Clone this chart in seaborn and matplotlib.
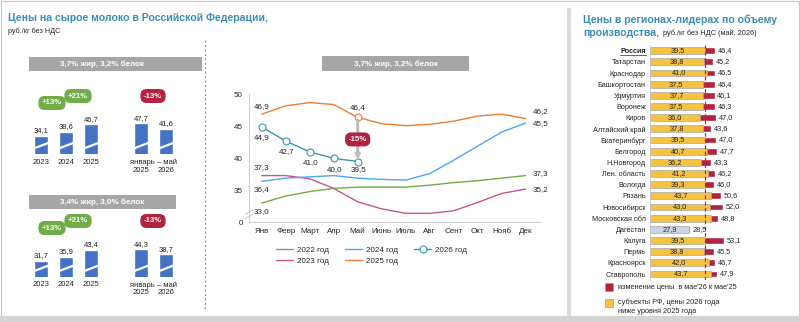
import numpy as np
import pandas as pd
import matplotlib
matplotlib.use('Agg')
import matplotlib.pyplot as plt
from matplotlib.patches import Rectangle
import seaborn as sns

# ---- data ----
months = ['Янв', 'Февр', 'Март', 'Апр', 'Май', 'Июнь', 'Июль', 'Авг', 'Сент', 'Окт', 'Нояб', 'Дек']
price_2022 = [33.0, 34.1, 34.8, 35.3, 35.5, 35.5, 35.5, 35.8, 36.2, 36.5, 36.9, 37.3]
price_2023 = [37.3, 37.3, 36.8, 35.3, 33.2, 32.1, 31.4, 31.4, 31.8, 33.1, 34.5, 35.2]
price_2024 = [36.4, 36.9, 37.1, 37.3, 36.9, 36.7, 36.6, 37.6, 39.7, 41.9, 44.1, 45.5]
price_2025 = [46.9, 48.2, 48.7, 48.4, 46.4, 45.4, 45.1, 45.3, 45.8, 46.6, 46.9, 46.2]
price_2026 = [44.9, 42.7, 41.0, 40.0, 39.5]

periods = ['2023', '2024', '2025', 'январь – май 2025', 'январь – май 2026']
period_ticks = ['2023', '2024', '2025', '2025', '2026']
fat37_values = [34.1, 38.6, 46.7, 47.7, 41.6]
fat34_values = [31.7, 35.9, 43.4, 44.3, 38.7]

regions = ['Россия', 'Татарстан', 'Краснодар', 'Башкортостан', 'Удмуртия', 'Воронеж',
           'Киров', 'Алтайский край', 'Екатеринбург', 'Белгород', 'Н.Новгород',
           'Лен. область', 'Вологда', 'Рязань', 'Новосибирск', 'Московская обл',
           'Дагестан', 'Калуга', 'Пермь', 'Красноярск', 'Ставрополь']
may_2026 = [39.5, 38.8, 41.0, 37.5, 37.7, 37.5, 36.0, 37.8, 39.5, 40.7, 36.2,
            41.2, 39.3, 43.7, 43.0, 43.3, 27.9, 39.5, 38.8, 42.0, 43.7]
may_2025 = [46.4, 45.2, 46.5, 46.4, 46.1, 46.3, 47.0, 43.6, 47.0, 47.7, 43.3,
            46.2, 46.0, 50.6, 52.0, 48.8, 28.5, 53.1, 45.5, 46.7, 47.9]

# ---- styles ----
W, H = 800, 322
TEAL = '#3a8fb7'
GRAY_HDR = '#a6a6a6'
BAR_BLUE = '#4472c4'
GREEN = '#70ad47'
RED = '#b3223f'
YELLOW = '#f5c242'
TXT = '#262626'
C2022, C2023, C2024, C2025, C2026 = '#70ad47', '#c5558a', '#4ea8ec', '#ed7d31', '#3a97b8'

sns.set_style('white')
plt.rcParams['font.family'] = ['Liberation Sans', 'DejaVu Sans']
plt.rcParams['text.color'] = TXT


def rect(x0, y0, x1, y1):
    return [x0 / W, 1 - y1 / H, (x1 - x0) / W, (y1 - y0) / H]


def fxy(x, y):
    return x / W, 1 - y / H


def fmt(v):
    return f'{v:.1f}'.replace('.', ',')


def pct(a, b):
    p = round((b / a - 1) * 100)
    return f'+{p}%' if p > 0 else f'{p}%'


fig = plt.figure(figsize=(8, 3.22), dpi=100)


def box(x0, y0, x1, y1, **kw):
    fig.add_artist(Rectangle(fxy(x0, y1), (x1 - x0) / W, (y1 - y0) / H,
                             transform=fig.transFigure, **kw))


def badge(x, y, text, color):
    fig.text(*fxy(x, y), text, ha='center', va='center', color='white', fontsize=5.6,
             fontweight='bold',
             bbox=dict(boxstyle='round,pad=0.45,rounding_size=0.8', fc=color, ec='none'))


def header(x0, y0, x1, y1, text, tx=None):
    box(x0, y0, x1, y1, fc=GRAY_HDR, ec='none')
    if tx is None:
        tx = (x0 + x1) / 2
    fig.text(*fxy(tx, (y0 + y1) / 2 + 0.5), text, ha='center', va='center',
             color='white', fontsize=5.8, fontweight='bold')


# frame
box(1, 1, 799, 316, fc='none', ec='#c8c8c8', lw=0.8)
box(0, 316, 800, 322, fc='#d4d4d4', ec='none')
box(567, 8, 571, 316, fc='#dcdcdc', ec='none')
fig.add_artist(plt.Line2D([205 / W, 205 / W], [1 - 40 / H, 1 - 310 / H], color='#9a9a9a',
                          lw=0.8, ls=(0, (2, 2)), transform=fig.transFigure))

# ---- left panel ----
fig.text(*fxy(8, 18), 'Цены на сырое молоко в Российской Федерации,', color=TEAL,
         fontsize=7.6, fontweight='bold', va='center')
fig.text(*fxy(8, 31), 'руб./кг без НДС', fontsize=5.2, va='center')

bar_order = ['2023', '2024', '2025', '', 'январь – май 2025', 'январь – май 2026']


def mini_chart(values, base_y, hdr, hdr_text, badge_y):
    header(*hdr, hdr_text, tx=102)
    ax = fig.add_axes(rect(28.5, base_y - 60, 178.5, base_y))
    df = pd.DataFrame({'period': periods, 'price': values})
    sns.barplot(data=df, x='period', y='price', order=bar_order, color=BAR_BLUE,
                width=0.56, saturation=1, ax=ax)
    ax.set_ylim(14.5, 14.5 + 60 / 0.92)
    ax.set_xlim(-0.5, 5.5)
    xt = ax.get_xaxis_transform()
    for k, (p, v) in enumerate(zip(periods, values)):
        i = bar_order.index(p)
        ax.annotate(fmt(v), (i, v), xytext=(0, 1.2), textcoords='offset points',
                    ha='center', va='bottom', fontsize=5.5)
        ax.plot([i - 0.29, i + 0.29], [20.5, 26.5], color='white', lw=1.6,
                solid_capstyle='butt')
        yy = -0.135 if k < 3 else -0.27
        ax.text(i, yy, period_ticks[k], transform=xt, ha='center', va='center',
                fontsize=5.5)
    ax.text(4.5, -0.135, 'январь – май', transform=xt, ha='center', va='center',
            fontsize=5.5)
    ax.set_xticks([])
    ax.set_yticks([])
    ax.set_xlabel('')
    ax.set_ylabel('')
    sns.despine(ax=ax, left=True, bottom=True)
    ax.patch.set_alpha(0)
    badge(52, badge_y + 7, pct(values[0], values[1]), GREEN)
    badge(78, badge_y, pct(values[1], values[2]), GREEN)
    badge(153, badge_y, pct(values[3], values[4]), RED)


mini_chart(fat37_values, 154, (29, 57, 202, 71), '3,7% жир, 3,2% белок', 96)
mini_chart(fat34_values, 276.7, (29, 195, 176, 209), '3,4% жир, 3,0% белок', 221)

# ---- middle line chart ----
header(322, 56, 469, 70.7, '3,7% жир, 3,2% белок')
ax = fig.add_axes(rect(249, 94.3, 540, 222.3))
series = [('2022 год', price_2022, C2022), ('2023 год', price_2023, C2023),
          ('2024 год', price_2024, C2024), ('2025 год', price_2025, C2025)]
for name, vals, col in series:
    sns.lineplot(x=np.arange(len(vals)), y=vals, color=col, lw=1.0, label=name, ax=ax)
sns.lineplot(x=np.arange(len(price_2026)), y=price_2026, color=C2026, lw=1.0,
             marker='o', markersize=5, markerfacecolor='white', markeredgecolor=C2026,
             markeredgewidth=0.8, label='2026 год', ax=ax)
ax.plot([4], [price_2025[4]], 'o', ms=5, mfc='white', mec=C2025, mew=0.8)

ax.set_xlim(-0.53, 11.6)
ax.set_ylim(30, 50)
ax.set_yticks([30, 35, 40, 45, 50])
ax.set_yticklabels(['0', '35', '40', '45', '50'], fontsize=5.8)
ax.set_xticks(range(12))
ax.set_xticklabels(months, fontsize=5.8)
ax.tick_params(axis='x', length=0, pad=4)
ax.tick_params(axis='y', length=2.5, width=0.6, color='#bfbfbf', pad=2)
for s in ['top', 'right']:
    ax.spines[s].set_visible(False)
for s in ['left', 'bottom']:
    ax.spines[s].set_color('#d0d0d0')
    ax.spines[s].set_linewidth(0.8)
ax.patch.set_alpha(0)
# axis break
for dy in (0, 2.2):
    ax.plot([-0.68, -0.36], [30.6 + dy * 0.3, 31.3 + dy * 0.3], color='#bfbfbf', lw=0.6,
            clip_on=False)


def lab(x, y, txt, dx, dy, ha='center'):
    ax.annotate(txt, (x, y), xytext=(dx * 0.72, dy * 0.72), textcoords='offset points',
                ha=ha, va='center', fontsize=5.8)


lab(0, price_2025[0], fmt(price_2025[0]), 0, 8)
lab(4, price_2025[4], fmt(price_2025[4]), 0, 10)
for i, v in enumerate(price_2026):
    lab(i, v, fmt(v), 0.5 if i else 0, -11 if i < 4 else -8.5)
lab(0, price_2023[0], fmt(price_2023[0]), 0, 8)
lab(0, price_2024[0], fmt(price_2024[0]), 0, -8.7)
lab(0, price_2022[0], fmt(price_2022[0]), 0, -8)
lab(11, price_2025[11], fmt(price_2025[11]), 7, 7, 'left')
lab(11, price_2024[11], fmt(price_2024[11]), 7, 0, 'left')
lab(11, price_2022[11], fmt(price_2022[11]), 7, 2, 'left')
lab(11, price_2023[11], fmt(price_2023[11]), 7, -1, 'left')

ax.annotate('', xy=(4, price_2026[4] + 0.25), xytext=(4, price_2025[4] - 0.45),
            arrowprops=dict(arrowstyle='-|>', color='#bdbdbd', lw=2.2, mutation_scale=6,
                            shrinkA=0, shrinkB=0))
ax.text(4, (price_2025[4] + price_2026[4]) / 2, pct(price_2025[4], price_2026[4]),
        ha='center', va='center', color='white', fontsize=5.6, fontweight='bold',
        bbox=dict(boxstyle='round,pad=0.45,rounding_size=0.8', fc=RED, ec='none'))

handles, labels = ax.get_legend_handles_labels()
ax.get_legend().remove()
fig.legend(handles, labels, loc='upper left', bbox_to_anchor=fxy(276, 246), ncol=3,
           frameon=False, fontsize=5.8, handlelength=2.1, handletextpad=0.5,
           columnspacing=2.0, labelspacing=0.45, borderaxespad=0, borderpad=0)

# ---- right panel ----
fig.text(*fxy(583, 20), 'Цены в регионах-лидерах по объему', color=TEAL, fontsize=7.6,
         fontweight='bold', va='center')
fig.text(*fxy(583, 33), 'производства,', color=TEAL, fontsize=7.6,
         fontweight='bold', va='center')
fig.text(*fxy(663, 33.5), 'руб./кг без НДС (май, 2026)', fontsize=5.3, va='center')

axr = fig.add_axes(rect(650, 45.1, 740, 279.6))
reg = pd.DataFrame({'region': regions, 'p2025': may_2025, 'p2026': may_2026})
outer_pal = {r: ('#4a7fc8' if r == 'Дагестан' else RED) for r in regions}
inner_pal = {r: ('#c9d3e5' if r == 'Дагестан' else YELLOW) for r in regions}
sns.barplot(data=reg, y='region', x='p2025', hue='region', palette=outer_pal,
            order=regions, orient='h', width=0.62, saturation=1, legend=False, ax=axr)
sns.barplot(data=reg, y='region', x='p2026', hue='region', palette=inner_pal,
            order=regions, orient='h', width=0.62, saturation=1, legend=False,
            edgecolor='#a8a8a8', linewidth=0.5, ax=axr)
axr.set_xlim(0, 90 / 1.4)
axr.set_ylim(20.5, -0.5)
axr.axvline(may_2026[0], color='#c0243c', lw=0.9, ls=(0, (3, 2)))
for i, (a, b) in enumerate(zip(may_2026, may_2025)):
    axr.text(a / 2, i, fmt(a), ha='center', va='center', fontsize=5.3)
    axr.text(b + 2.0, i, fmt(b), ha='left', va='center', fontsize=5.3)
axr.set_xticks([])
axr.set_xlabel('')
axr.set_ylabel('')
axr.tick_params(axis='y', length=0, pad=3, labelsize=5.2)
for s in ['top', 'right', 'bottom']:
    axr.spines[s].set_visible(False)
axr.spines['left'].set_color('#c8c8c8')
axr.spines['left'].set_linewidth(0.6)
axr.patch.set_alpha(0)
ytl = axr.get_yticklabels()
ytl[0].set_fontweight('bold')

# legend of right panel
box(605, 283, 613, 291, fc=RED, ec='#a0a0a0', lw=0.5)
fig.text(*fxy(618, 287.5), "изменение цены  в мае'26 к мае'25", fontsize=5.3, va='center')
box(605, 299, 613, 307, fc=YELLOW, ec='#a0a0a0', lw=0.5)
fig.text(*fxy(618, 302), 'субъекты РФ, цены 2026 года', fontsize=5.3, va='center')
fig.text(*fxy(618, 311.5), 'ниже уровня 2025 года', fontsize=5.3, va='center')

# underline "Россия"
fig.canvas.draw()
bb = ytl[0].get_window_extent().transformed(fig.transFigure.inverted())
fig.add_artist(plt.Line2D([bb.x0, bb.x1], [bb.y0 + 0.002, bb.y0 + 0.002], color=TXT,
                          lw=0.5, transform=fig.transFigure))

fig.savefig('out.png', dpi=100)
